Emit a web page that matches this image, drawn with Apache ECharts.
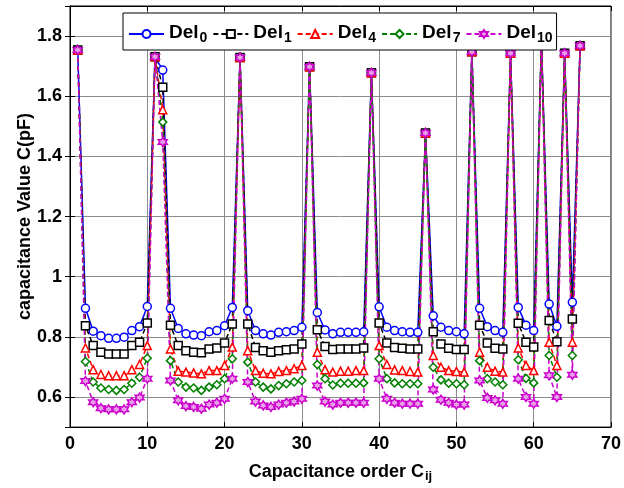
<!DOCTYPE html>
<html>
  <head>
    <meta charset="UTF-8">
    <title>Capacitance order</title>
    <script src="https://cdn.jsdelivr.net/npm/echarts@6/dist/echarts.min.js"></script>
    <style>
      html, body { margin: 0; padding: 0; background: #fff; }
      #chart { width: 624px; height: 488px; }
    </style>
  </head>
  <body>
    <div id="chart"></div>
    <script>
// capacitance order (x) for the 66 entries
const order = [1, 2, 3, 4, 5, 6, 7, 8, 9, 10, 11, 12, 13, 14, 15, 16, 17, 18, 19, 20,
  21, 22, 23, 24, 25, 26, 27, 28, 29, 30, 31, 32, 33, 34, 35, 36, 37, 38, 39, 40,
  41, 42, 43, 44, 45, 46, 47, 48, 49, 50, 51, 52, 53, 54, 55, 56, 57, 58, 59, 60,
  61, 62, 63, 64, 65, 66];

const del0 = [1.754, 0.895, 0.819, 0.804, 0.795, 0.795, 0.799, 0.821, 0.834, 0.901,
  1.731, 1.687, 0.895, 0.828, 0.810, 0.806, 0.804, 0.817, 0.821, 0.837, 0.898,
  1.729, 0.887, 0.821, 0.810, 0.806, 0.815, 0.817, 0.821, 0.832,
  1.698, 0.881, 0.823, 0.810, 0.815, 0.815, 0.815, 0.817,
  1.678, 0.900, 0.832, 0.821, 0.817, 0.815, 0.815,
  1.478, 0.870, 0.832, 0.821, 0.817, 0.810,
  1.748, 0.895, 0.834, 0.821, 0.815,
  1.743, 0.898, 0.839, 0.821,
  1.790, 0.909, 0.835,
  1.743, 0.915,
  1.768];

const del1 = [1.754, 0.837, 0.771, 0.749, 0.743, 0.743, 0.743, 0.771, 0.782, 0.846,
  1.731, 1.630, 0.839, 0.771, 0.754, 0.749, 0.747, 0.760, 0.763, 0.780, 0.843,
  1.729, 0.843, 0.765, 0.754, 0.749, 0.754, 0.757, 0.760, 0.776,
  1.698, 0.824, 0.768, 0.758, 0.760, 0.760, 0.760, 0.763,
  1.678, 0.846, 0.780, 0.765, 0.762, 0.760, 0.760,
  1.478, 0.817, 0.776, 0.762, 0.758, 0.758,
  1.748, 0.839, 0.780, 0.762, 0.760,
  1.743, 0.845, 0.782, 0.766,
  1.790, 0.854, 0.784,
  1.743, 0.859,
  1.768];

const del4 = [1.754, 0.763, 0.691, 0.675, 0.671, 0.671, 0.671, 0.691, 0.708, 0.771,
  1.731, 1.555, 0.760, 0.686, 0.683, 0.680, 0.677, 0.688, 0.688, 0.705, 0.766,
  1.729, 0.754, 0.688, 0.679, 0.677, 0.685, 0.688, 0.694, 0.705,
  1.698, 0.749, 0.691, 0.683, 0.686, 0.686, 0.688, 0.688,
  1.678, 0.771, 0.708, 0.690, 0.688, 0.685, 0.683,
  1.478, 0.738, 0.699, 0.688, 0.685, 0.683,
  1.748, 0.749, 0.699, 0.686, 0.683,
  1.743, 0.763, 0.705, 0.688,
  1.790, 0.782, 0.705,
  1.743, 0.782,
  1.768];

const del7 = [1.754, 0.718, 0.650, 0.630, 0.625, 0.622, 0.625, 0.646, 0.666, 0.729,
  1.731, 1.514, 0.721, 0.650, 0.633, 0.630, 0.622, 0.633, 0.641, 0.661, 0.727,
  1.729, 0.716, 0.650, 0.633, 0.627, 0.638, 0.644, 0.650, 0.655,
  1.698, 0.708, 0.661, 0.640, 0.646, 0.646, 0.646, 0.647,
  1.678, 0.727, 0.661, 0.647, 0.644, 0.644, 0.644,
  1.478, 0.699, 0.657, 0.646, 0.644, 0.641,
  1.748, 0.721, 0.661, 0.650, 0.641,
  1.743, 0.724, 0.662, 0.647,
  1.790, 0.738, 0.666,
  1.743, 0.738,
  1.768];

const del10 = [1.754, 0.653, 0.583, 0.563, 0.559, 0.559, 0.559, 0.583, 0.598, 0.661,
  1.731, 1.448, 0.655, 0.589, 0.570, 0.567, 0.561, 0.575, 0.581, 0.594, 0.661,
  1.729, 0.650, 0.585, 0.572, 0.567, 0.575, 0.581, 0.585, 0.594,
  1.698, 0.638, 0.585, 0.575, 0.581, 0.581, 0.581, 0.581,
  1.678, 0.661, 0.594, 0.581, 0.578, 0.578, 0.578,
  1.478, 0.625, 0.591, 0.581, 0.575, 0.575,
  1.748, 0.655, 0.597, 0.589, 0.578,
  1.743, 0.661, 0.600, 0.578,
  1.790, 0.672, 0.600,
  1.743, 0.674,
  1.768];

const xTicks = [0, 10, 20, 30, 40, 50, 60, 70];

const FONT = 'Arial, "Liberation Sans", sans-serif';
const HEXAGRAM = 'path://M10,0L12.887,5L18.66,5L15.774,10L18.66,15L12.887,15L10,20L7.113,15L1.34,15L4.226,10L1.34,5L7.113,5Z';

function pairs(values) {
  return values.map((v, i) => [order[i], v]);
}

function lineSeries(name, values, color, symbol, dashed, fill) {
  return {
    name: name,
    type: 'line',
    data: pairs(values),
    symbol: symbol,
    symbolSize: symbol === HEXAGRAM ? 9 : 8,
    showAllSymbol: true,
    lineStyle: { color: color, width: 1.5, type: dashed ? [5, 3] : 'solid' },
    itemStyle: { color: fill || '#fff', borderColor: color, borderWidth: 1.5 },
    emphasis: { disabled: true }
  };
}

const chart = echarts.init(document.getElementById('chart'), null, { renderer: 'canvas' });

const axisLine = { show: true, lineStyle: { color: '#000', width: 1 } };
const tickIn = { show: true, inside: true, length: 5, lineStyle: { color: '#000' } };
const labelFont = { fontFamily: FONT, fontWeight: 'bold', fontSize: 18, color: '#000' };

chart.setOption({
  animation: false,
  backgroundColor: '#fff',
  grid: { left: 70, right: 11, top: 6, bottom: 60, show: true, borderColor: '#000', borderWidth: 1 },
  legend: {
    left: 123,
    top: 13,
    padding: [4, 4, 5, 5],
    itemGap: 5,
    itemWidth: 35,
    itemHeight: 10,
    backgroundColor: '#fff',
    borderColor: '#000',
    borderWidth: 1,
    borderRadius: 0,
    selectedMode: false,
    formatter: name => '{a|Del}{b|' + name.slice(3) + '}',
    textStyle: {
      rich: {
        a: { fontFamily: FONT, fontWeight: 'bold', fontSize: 19, color: '#000', lineHeight: 22, verticalAlign: 'top' },
        b: { fontFamily: FONT, fontWeight: 'bold', fontSize: 14, color: '#000', lineHeight: 15, verticalAlign: 'bottom', padding: [14, 0, 0, 1] }
      }
    },
    data: ['Del0', 'Del1', 'Del4', 'Del7', 'Del10']
  },
  xAxis: [{
    type: 'value',
    min: xTicks[0],
    max: xTicks[xTicks.length - 1],
    interval: 10,
    name: '{a|Capacitance order C}{b|ij}',
    nameLocation: 'middle',
    nameGap: 29,
    nameTextStyle: {
      rich: {
        a: { fontFamily: FONT, fontWeight: 'bold', fontSize: 18, color: '#000', lineHeight: 20, verticalAlign: 'top' },
        b: { fontFamily: FONT, fontWeight: 'bold', fontSize: 13, color: '#000', lineHeight: 14, verticalAlign: 'bottom', padding: [12, 0, 0, 1] }
      }
    },
    axisLine: axisLine,
    axisTick: tickIn,
    axisLabel: Object.assign({ margin: 8 }, labelFont),
    splitLine: { show: true, lineStyle: { color: '#8c8c8c', width: 1 } }
  }, {
    type: 'value',
    position: 'top',
    min: xTicks[0],
    max: xTicks[xTicks.length - 1],
    interval: 10,
    axisLine: axisLine,
    axisTick: tickIn,
    axisLabel: { show: false },
    splitLine: { show: false }
  }],
  yAxis: [{
    type: 'value',
    min: 0.5,
    max: 1.9,
    splitNumber: 7,
    name: 'capacitance Value C(pF)',
    nameLocation: 'middle',
    nameGap: 36,
    nameMoveOverlap: false,
    nameTextStyle: { fontFamily: FONT, fontWeight: 'bold', fontSize: 18, color: '#000' },
    axisLine: axisLine,
    axisTick: tickIn,
    axisLabel: Object.assign({ margin: 8, showMinLabel: false, showMaxLabel: false }, labelFont),
    splitLine: { show: true, lineStyle: { color: '#8c8c8c', width: 1 } }
  }, {
    type: 'value',
    position: 'right',
    min: 0.5,
    max: 1.9,
    splitNumber: 7,
    axisLine: axisLine,
    axisTick: tickIn,
    axisLabel: { show: false },
    splitLine: { show: false }
  }],
  series: [
    lineSeries('Del0', del0, '#0000ff', 'circle', false),
    lineSeries('Del1', del1, '#000000', 'rect', true),
    lineSeries('Del4', del4, '#ff0000', 'triangle', true),
    lineSeries('Del7', del7, '#008000', 'diamond', true),
    lineSeries('Del10', del10, '#cc00cc', HEXAGRAM, true, '#e9a0e9')
  ]
});
    </script>
  </body>
</html>
